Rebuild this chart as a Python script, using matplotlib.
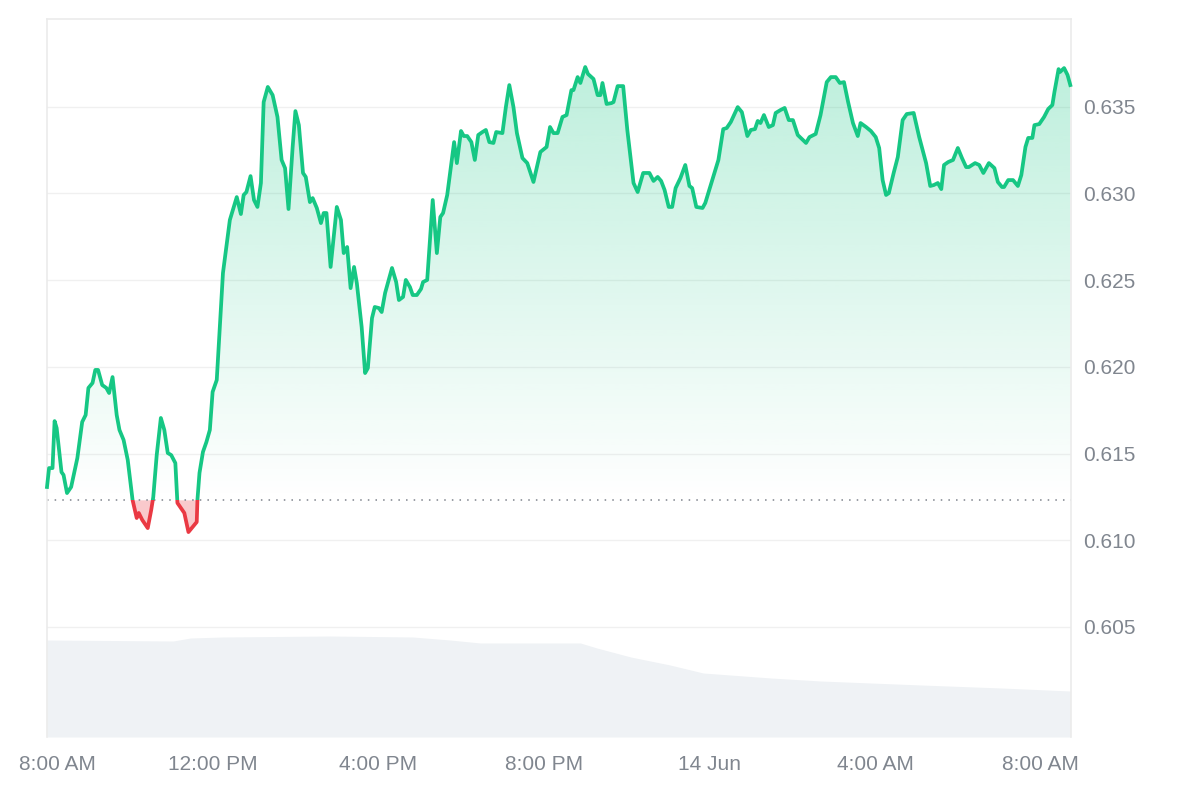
import numpy as np
import matplotlib
matplotlib.use("Agg")
from matplotlib import pyplot as plt
from matplotlib.patches import Rectangle
from matplotlib.path import Path
from matplotlib.ticker import FixedLocator, FormatStrFormatter
import matplotlib.transforms as mtransforms

# minutes since 8:00 AM, 13 Jun
minutes = [
    0, 3, 8, 11, 14, 21, 24, 29, 35, 44,
    51, 56, 60, 66, 70, 74, 80, 86, 90, 95,
    101, 105, 111, 117, 124, 130, 133, 138, 146, 151,
    154, 159, 165, 170, 175, 180, 186, 189, 196, 199,
    205, 211, 217, 218, 221, 226, 231, 236, 240, 246,
    255, 265, 275, 281, 285, 289, 295, 300, 305, 310,
    314, 320, 327, 334, 340, 345, 350, 356, 360, 365,
    371, 375, 381, 385, 391, 397, 401, 405, 411, 420,
    426, 430, 435, 440, 445, 449, 456, 461, 465, 471,
    475, 481, 485, 490, 500, 506, 510, 516, 520, 526,
    530, 536, 542, 545, 551, 554, 559, 565, 570, 574,
    580, 586, 590, 594, 600, 604, 609, 615, 620, 625,
    631, 636, 641, 647, 651, 660, 665, 670, 676, 681,
    689, 696, 705, 715, 724, 729, 734, 740, 747, 753,
    760, 763, 769, 773, 780, 784, 792, 798, 802, 805,
    811, 818, 821, 827, 835, 841, 850, 856, 864, 873,
    879, 885, 890, 895, 901, 906, 911, 918, 925, 931,
    935, 941, 950, 954, 965, 973, 980, 985, 991, 1001,
    1007, 1015, 1020, 1026, 1030, 1034, 1039, 1046, 1052, 1056,
    1063, 1069, 1075, 1081, 1088, 1094, 1100, 1105, 1114, 1121,
    1130, 1136, 1143, 1149, 1155, 1161, 1168, 1175, 1179, 1187,
    1194, 1201, 1206, 1211, 1216, 1220, 1227, 1233, 1240, 1246,
    1256, 1264, 1274, 1280, 1285, 1291, 1296, 1300, 1306, 1313,
    1320, 1326, 1332, 1336, 1345, 1351, 1357, 1365, 1373, 1378,
    1384, 1387, 1393, 1400, 1407, 1412, 1418, 1422, 1428, 1431,
    1438, 1445, 1451, 1457, 1460, 1466, 1468, 1474, 1479, 1483,
]

prices = [
    0.61307, 0.61416, 0.61416, 0.61687, 0.61647, 0.61393, 0.61376, 0.61272, 0.61307, 0.61474,
    0.61682, 0.61722, 0.61878, 0.61907, 0.61982, 0.61982, 0.61895, 0.61878, 0.61849, 0.61941,
    0.61722, 0.61636, 0.61578, 0.61463, 0.61232, 0.61128, 0.61157, 0.61117, 0.61070, 0.61174,
    0.61249, 0.61491, 0.61705, 0.61636, 0.61503, 0.61491, 0.61445, 0.61215, 0.61174, 0.61157,
    0.61047, 0.61076, 0.61105, 0.61232, 0.61388, 0.61509, 0.61566, 0.61636, 0.61855, 0.61924,
    0.62541, 0.62847, 0.62979, 0.62881, 0.62991, 0.63008, 0.63100, 0.62962, 0.62922, 0.63060,
    0.63527, 0.63614, 0.63567, 0.63441, 0.63193, 0.63146, 0.62910, 0.63268, 0.63475, 0.63394,
    0.63118, 0.63095, 0.62950, 0.62973, 0.62916, 0.62829, 0.62887, 0.62887, 0.62576, 0.62922,
    0.62847, 0.62656, 0.62691, 0.62454, 0.62576, 0.62483, 0.62230, 0.61964, 0.61993, 0.62281,
    0.62345, 0.62339, 0.62316, 0.62426, 0.62570, 0.62489, 0.62385, 0.62403, 0.62501, 0.62460,
    0.62414, 0.62414, 0.62449, 0.62489, 0.62501, 0.62674, 0.62962, 0.62656, 0.62864, 0.62887,
    0.62991, 0.63175, 0.63296, 0.63175, 0.63360, 0.63331, 0.63331, 0.63296, 0.63193, 0.63337,
    0.63354, 0.63366, 0.63296, 0.63291, 0.63354, 0.63348, 0.63498, 0.63625, 0.63498, 0.63348,
    0.63204, 0.63175, 0.63066, 0.63239, 0.63268, 0.63383, 0.63348, 0.63348, 0.63441, 0.63452,
    0.63596, 0.63596, 0.63671, 0.63637, 0.63729, 0.63689, 0.63660, 0.63567, 0.63567, 0.63637,
    0.63516, 0.63521, 0.63527, 0.63619, 0.63619, 0.63366, 0.63060, 0.63008, 0.63118, 0.63118,
    0.63072, 0.63095, 0.63072, 0.63020, 0.62922, 0.62922, 0.63031, 0.63089, 0.63164, 0.63043,
    0.63031, 0.62922, 0.62916, 0.62945, 0.63089, 0.63193, 0.63371, 0.63377, 0.63412, 0.63498,
    0.63469, 0.63331, 0.63366, 0.63371, 0.63418, 0.63406, 0.63452, 0.63383, 0.63394, 0.63464,
    0.63481, 0.63493, 0.63423, 0.63423, 0.63337, 0.63314, 0.63291, 0.63325, 0.63343, 0.63452,
    0.63642, 0.63671, 0.63671, 0.63637, 0.63642, 0.63527, 0.63406, 0.63331, 0.63406, 0.63383,
    0.63360, 0.63325, 0.63262, 0.63077, 0.62991, 0.63002, 0.63118, 0.63210, 0.63423, 0.63458,
    0.63464, 0.63325, 0.63175, 0.63043, 0.63048, 0.63060, 0.63025, 0.63164, 0.63181, 0.63193,
    0.63262, 0.63204, 0.63152, 0.63152, 0.63175, 0.63164, 0.63118, 0.63175, 0.63146, 0.63066,
    0.63037, 0.63037, 0.63077, 0.63077, 0.63043, 0.63106, 0.63268, 0.63320, 0.63320, 0.63394,
    0.63400, 0.63441, 0.63487, 0.63510, 0.63585, 0.63717, 0.63700, 0.63723, 0.63683, 0.63625,
]

base_price = 0.6123  # dotted reference line

# rolling volume (arbitrary units) shown as grey area at the bottom
vol_minutes = [0, 183, 208, 255, 410, 530, 584, 628, 773, 797, 846, 903, 951, 1049, 1121, 1267, 1383, 1483]
vol_values = [9.7, 9.6, 9.9, 10.0, 10.1, 10.0, 9.7, 9.4, 9.4, 8.9, 8.0, 7.2, 6.4, 5.9, 5.6, 5.2, 4.9, 4.6]

tick_minutes = [0, 240, 480, 720, 960, 1200, 1440]
tick_labels = ["8:00 AM", "12:00 PM", "4:00 PM", "8:00 PM", "14 Jun", "4:00 AM", "8:00 AM"]
price_ticks = [0.605, 0.610, 0.615, 0.620, 0.625, 0.630, 0.635]

GREEN = "#16c784"
RED = "#ea3943"
TEXT = "#80868f"
FRAME = "#ebebeb"

t = np.array(minutes, dtype=float)
p = np.array(prices)
x0, x1 = 0, 1484
y0, y1 = 0.59865, 0.64006

plt.rcParams["font.family"] = ["Liberation Sans", "DejaVu Sans"]

fig = plt.figure(figsize=(12, 8), dpi=100, facecolor="white")
ax = fig.add_axes([47 / 1200, 63 / 800, 1024 / 1200, 718 / 800])

# volume on its own scale, behind the price axes
vax = ax.twinx()
vax.fill_between(vol_minutes, vol_values, 0, color="#eff2f5", lw=0)
vax.set_ylim(0, 71.8)
vax.set_yticks([])
for s in vax.spines.values():
    s.set_visible(False)
vax.set_zorder(0)
ax.set_zorder(1)
ax.patch.set_visible(False)

# gradient fill above the reference line
poly = ax.fill_between(t, p, base_price, facecolor="none", edgecolor="none")
clip = Path.make_compound_path(*poly.get_paths())
n = 256
grad = np.zeros((n, 1, 4))
grad[:, 0, 0] = 22 / 255
grad[:, 0, 1] = 199 / 255
grad[:, 0, 2] = 132 / 255
grad[:, 0, 3] = np.linspace(0.0, 0.28, n)
im = ax.imshow(grad, extent=[x0, x1, base_price, p.max()], origin="lower",
               aspect="auto", interpolation="bilinear", zorder=1)
im.set_clip_path(clip, transform=ax.transData)

# red fill below the reference line
ax.fill_between(t, p, base_price, where=p < base_price, interpolate=True,
                color=RED, alpha=0.27, lw=0, zorder=1)

ax.axhline(base_price, color="#7d828b", lw=1.1, ls=(0, (1, 4)), zorder=2)

up = Rectangle((x0 - 100, base_price), x1 + 200, 1, transform=ax.transData)
down = Rectangle((x0 - 100, base_price - 1), x1 + 200, 1, transform=ax.transData)
lg, = ax.plot(t, p, color=GREEN, lw=2.7, zorder=3, solid_joinstyle="round")
lg.set_clip_path(up)
lr, = ax.plot(t, p, color=RED, lw=2.7, zorder=3, solid_joinstyle="round")
lr.set_clip_path(down)

ax.set_xlim(x0, x1)
ax.set_ylim(y0, y1)

ax.xaxis.set_major_locator(FixedLocator(tick_minutes))
ax.set_xticklabels(tick_labels)
ax.yaxis.tick_right()
ax.yaxis.set_major_locator(FixedLocator(price_ticks))
ax.yaxis.set_major_formatter(FormatStrFormatter("%.3f"))
ax.tick_params(axis="x", length=0, pad=13, labelsize=15, labelcolor=TEXT)
ax.tick_params(axis="y", length=0, pad=9, labelsize=15, labelcolor=TEXT)
ax.yaxis.grid(True, color="#f0f0f0", lw=1)
ax.set_axisbelow(True)

for side in ["top", "left", "right"]:
    ax.spines[side].set_color(FRAME)
    ax.spines[side].set_linewidth(1.2)
ax.spines["bottom"].set_visible(False)

# first label sits a bit right of its tick
first = ax.get_xticklabels()[0]
first.set_transform(first.get_transform() + mtransforms.ScaledTranslation(0.1, 0, fig.dpi_scale_trans))

fig.savefig("out.png", dpi=100, facecolor="white")
